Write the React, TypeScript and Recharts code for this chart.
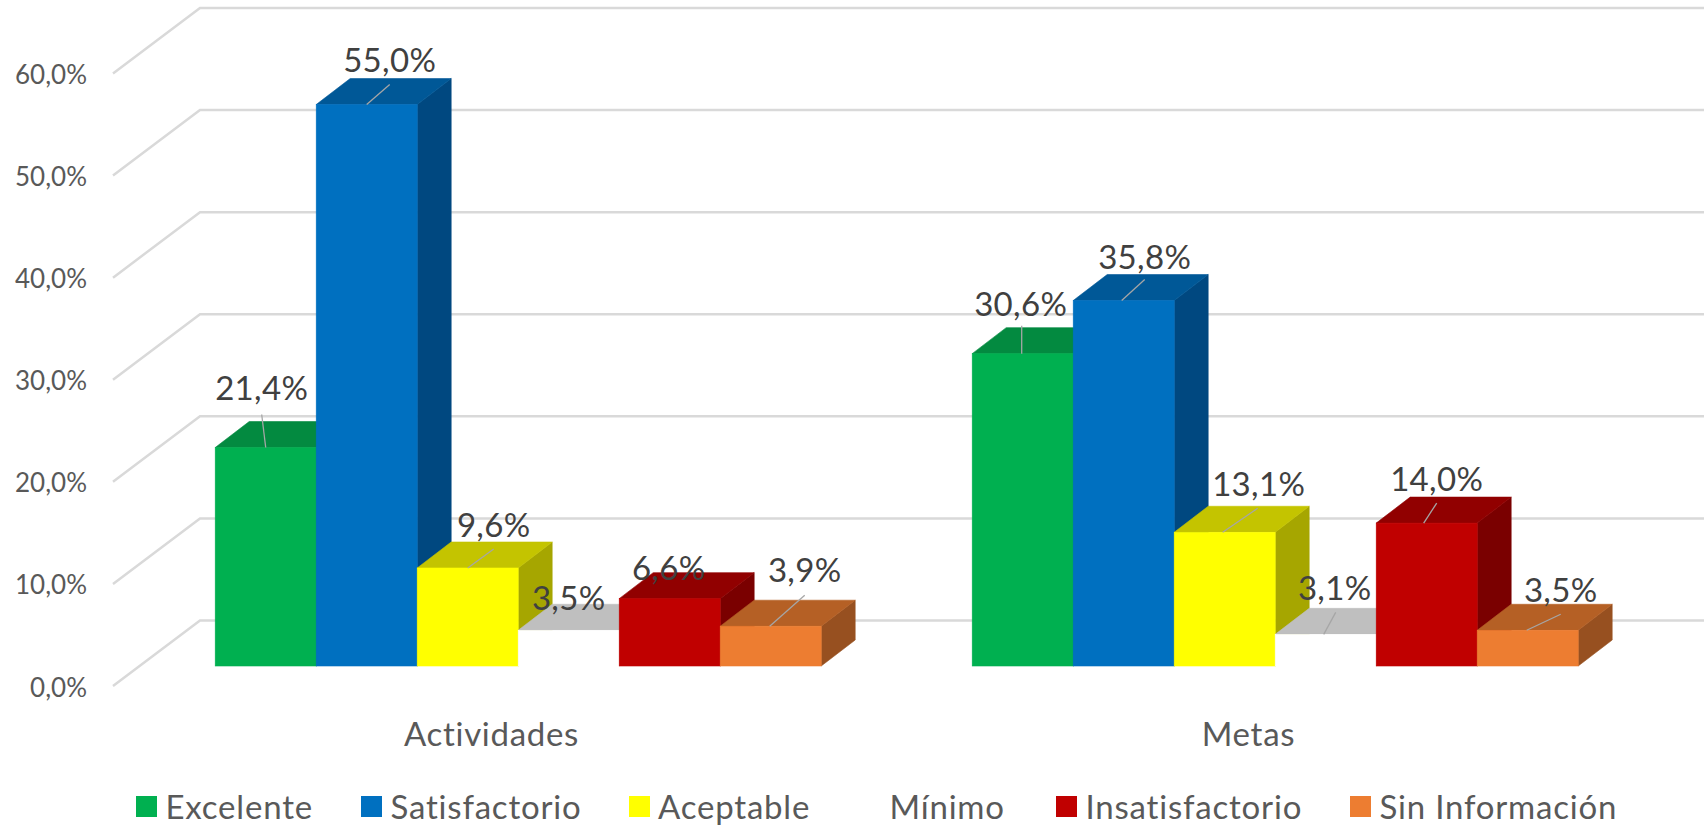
import React from "react";
import { BarChart, Bar, XAxis, YAxis, CartesianGrid, Legend, LabelList } from "recharts";

const categories = ["Actividades", "Metas"];
const excelente = [21.4, 30.6];
const satisfactorio = [55.0, 35.8];
const aceptable = [9.6, 13.1];
const minimo = [3.5, 3.1];
const insatisfactorio = [6.6, 14.0];
const sinInformacion = [3.9, 3.5];
const yTicks = [0, 10, 20, 30, 40, 50, 60];

const data = categories.map((name, i) => ({
  name,
  excelente: excelente[i],
  satisfactorio: satisfactorio[i],
  aceptable: aceptable[i],
  minimo: minimo[i],
  insatisfactorio: insatisfactorio[i],
  sinInformacion: sinInformacion[i],
}));

const FONT = "Lato, 'Open Sans', sans-serif";
const W = 1704;
const H = 829;
const PLOT_TOP = 53.5;
const PLOT_BOTTOM = 666;
const DEPTH_X = 34;
const DEPTH_Y = 26;
const WALL_FRONT_X = 113;
const WALL_BACK_X = 200;
const WALL_FRONT_DY = 20;
const WALL_BACK_DY = -45.5;

type LabelPos = { dx: number; dy: number; leader?: [number, number, number] };

const series = [
  {
    key: "excelente", name: "Excelente", fill: "#00B050", top: "#038A40", side: "#02793A",
    legendX: 136,
    labels: [
      { dx: -4, dy: -61, leader: [0, -4, -33] },
      { dx: -2, dy: -51, leader: [-1, -1, -28] },
    ] as LabelPos[],
  },
  {
    key: "satisfactorio", name: "Satisfactorio", fill: "#0070C0", top: "#005897", side: "#004880",
    legendX: 361,
    labels: [
      { dx: 23, dy: -46, leader: [0, 23, -20] },
      { dx: 21, dy: -45, leader: [-2, 21, -21] },
    ] as LabelPos[],
  },
  {
    key: "aceptable", name: "Aceptable", fill: "#FFFF00", top: "#C4C400", side: "#A6A600",
    legendX: 628.5,
    labels: [
      { dx: 26, dy: -44, leader: [0, 26, -19] },
      { dx: 34, dy: -49, leader: [-2, 33, -24] },
    ] as LabelPos[],
  },
  {
    key: "minimo", name: "Mínimo", fill: "#FFFFFF", top: "#BFBFBF", side: "#A6A6A6",
    legendX: 860,
    labels: [
      { dx: 0, dy: -33 },
      { dx: 9, dy: -47, leader: [-2, 10, -22] },
    ] as LabelPos[],
  },
  {
    key: "insatisfactorio", name: "Insatisfactorio", fill: "#C00000", top: "#910000", side: "#7A0000",
    legendX: 1056,
    labels: [
      { dx: -1, dy: -32 },
      { dx: 10, dy: -45, leader: [-3, 10, -20] },
    ] as LabelPos[],
  },
  {
    key: "sinInformacion", name: "Sin Información", fill: "#ED7D31", top: "#B56025", side: "#975020",
    legendX: 1350,
    labels: [
      { dx: 34, dy: -57, leader: [-1, 34, -31] },
      { dx: 33, dy: -41, leader: [-1, 33, -16] },
    ] as LabelPos[],
  },
];

const pct = (v: number) => v.toFixed(1).replace(".", ",") + "%";

const makeShape = (top: string, side: string) => (p: any) => {
  const { x, y, width: w, height: h, fill } = p;
  const pts = (a: number[][]) => a.map((q) => q.join(",")).join(" ");
  return (
    <g>
      <polygon
        points={pts([[x + w, y], [x + w + DEPTH_X, y - DEPTH_Y], [x + w + DEPTH_X, y + h - DEPTH_Y], [x + w, y + h]])}
        fill={side}
        stroke={side}
        strokeWidth={0.6}
      />
      <polygon
        points={pts([[x, y], [x + DEPTH_X, y - DEPTH_Y], [x + w + DEPTH_X, y - DEPTH_Y], [x + w, y]])}
        fill={top}
        stroke={top}
        strokeWidth={0.6}
      />
      <rect x={x} y={y} width={w} height={h} fill={fill} stroke={fill} strokeWidth={0.6} />
    </g>
  );
};

const makeLabel = (labels: LabelPos[]) => (p: any) => {
  const { viewBox, value, index } = p;
  const { x, y, width } = viewBox;
  const cx = x + width / 2;
  const l = labels[index];
  return (
    <g>
      {l.leader && (
        <line
          x1={cx + l.leader[0]}
          y1={y}
          x2={cx + l.leader[1]}
          y2={y + l.leader[2]}
          stroke="#A6A6A6"
          strokeWidth={1.3}
        />
      )}
      <text
        x={cx + l.dx}
        y={y + l.dy}
        textAnchor="middle"
        dominantBaseline="central"
        fontFamily={FONT}
        fontSize={33}
        letterSpacing={0.35}
        fill="#404040"
      >
        {pct(value)}
      </text>
    </g>
  );
};

const GridLine = (p: any) => {
  const { y1, index } = p;
  return (
    <polyline
      key={index}
      points={`${WALL_FRONT_X},${y1 + WALL_FRONT_DY} ${WALL_BACK_X},${y1 + WALL_BACK_DY} ${W},${y1 + WALL_BACK_DY}`}
      fill="none"
      stroke="#D9D9D9"
      strokeWidth={2.5}
    />
  );
};

const YTick = (p: any) => (
  <text
    x={87}
    y={p.y + WALL_FRONT_DY + 0.5}
    textAnchor="end"
    dominantBaseline="central"
    fontFamily={FONT}
    fontSize={26}
    fill="#595959"
  >
    {pct(p.payload.value)}
  </text>
);

const XTick = (p: any) => (
  <text
    x={p.x - 26.5}
    y={PLOT_BOTTOM + 67}
    textAnchor="middle"
    dominantBaseline="central"
    fontFamily={FONT}
    fontSize={33}
    letterSpacing={0.7}
    fill="#595959"
  >
    {p.payload.value}
  </text>
);

const LegendContent = (p: any) => (
  <div style={{ position: "relative", width: W, height: H }}>
    {(p.payload || []).map((item: any) => {
      const s = series.find((q) => q.name === item.value);
      return (
        <div
          key={item.value}
          style={{
            position: "absolute",
            left: s ? s.legendX : 0,
            top: 796,
            height: 21,
            display: "flex",
            alignItems: "center",
            whiteSpace: "nowrap",
          }}
        >
          <span style={{ width: 21, height: 21, background: item.color, display: "inline-block" }} />
          <span
            style={{
              marginLeft: 8.5,
              fontFamily: FONT,
              fontSize: 33,
              letterSpacing: 0.8,
              color: "#595959",
              lineHeight: "21px",
            }}
          >
            {item.value}
          </span>
        </div>
      );
    })}
  </div>
);

export default function App() {
  return (
    <div style={{ position: "fixed", left: 0, top: 0, width: W, height: H, background: "#fff", overflow: "hidden" }}>
      <BarChart
        width={W}
        height={H}
        data={data}
        margin={{ top: PLOT_TOP, right: 50.5, bottom: 0, left: 0 }}
        barCategoryGap="10%"
        barGap={0}
      >
        <CartesianGrid vertical={false} horizontal={GridLine as any} />
        <XAxis dataKey="name" axisLine={false} tickLine={false} height={H - PLOT_BOTTOM} tick={XTick as any} interval={0} />
        <YAxis
          width={139.5}
          domain={[0, 60]}
          ticks={yTicks}
          axisLine={false}
          tickLine={false}
          tick={YTick as any}
          interval={0}
        />
        <Legend
          layout="horizontal"
          align="center"
          verticalAlign="middle"
          itemSorter={null as any}
          wrapperStyle={{ left: 0, top: 0, width: W, height: H, margin: 0, pointerEvents: "none" }}
          content={LegendContent as any}
        />
        {series.map((s) => (
          <Bar
            key={s.key}
            dataKey={s.key}
            name={s.name}
            fill={s.fill}
            isAnimationActive={false}
            shape={makeShape(s.top, s.side) as any}
          >
            <LabelList dataKey={s.key} content={makeLabel(s.labels) as any} />
          </Bar>
        ))}
      </BarChart>
    </div>
  );
}
